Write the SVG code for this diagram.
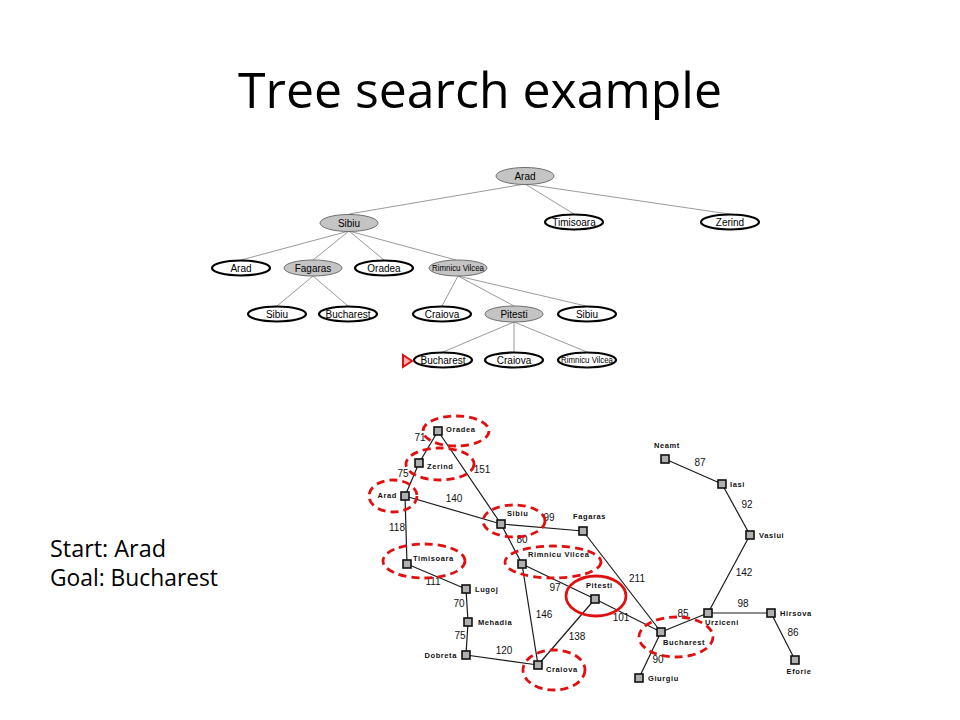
<svg xmlns="http://www.w3.org/2000/svg" width="960" height="720" viewBox="0 0 960 720">
<style>
.title{font-family:"Open Sans","Noto Sans",sans-serif;font-size:50px;fill:#000}
.side{font-family:"Open Sans","Noto Sans",sans-serif;font-size:23px;fill:#000}
.tl{stroke:#808080;stroke-width:0.8;fill:none}
.tn-g{fill:#c4c4c4;stroke:#6e6e6e;stroke-width:1}
.tn-w{fill:#fff;stroke:#000;stroke-width:2.2}
.tt{font-family:"Liberation Sans",Arial,sans-serif;font-size:10px;fill:#000;text-anchor:middle}
.tts{font-family:"Liberation Sans",Arial,sans-serif;font-size:8.5px;fill:#000;text-anchor:middle}
.ml{stroke:#1a1a1a;stroke-width:1.2;fill:none}
.sq{fill:#b0b0b0;stroke:#111;stroke-width:1.6}
.city{font-family:"Liberation Sans",Arial,sans-serif;font-size:7.5px;font-weight:bold;letter-spacing:0.6px;fill:#111}
.num{font-family:"Liberation Sans",Arial,sans-serif;font-size:10px;fill:#111;text-anchor:middle}
.rd{fill:none;stroke:#e01010;stroke-width:2.8;stroke-dasharray:8 5}
.rs{fill:none;stroke:#e01010;stroke-width:2.8}
</style>
<defs>
<rect id="sq" x="-4" y="-4" width="8" height="8" class="sq"/>
</defs>
<rect width="960" height="720" fill="#fff"/>
<text class="title" x="480" y="108" text-anchor="middle" textLength="484" lengthAdjust="spacingAndGlyphs">Tree search example</text>
<text class="side" x="50" y="557" textLength="116" lengthAdjust="spacingAndGlyphs">Start: Arad</text>
<text class="side" x="50" y="586" textLength="168" lengthAdjust="spacingAndGlyphs">Goal: Bucharest</text>

<g id="tree-edges">
<line class="tl" x1="525" y1="184" x2="349" y2="214"/>
<line class="tl" x1="525" y1="184" x2="574" y2="214"/>
<line class="tl" x1="525" y1="184" x2="729" y2="214"/>
<line class="tl" x1="349" y1="231" x2="241" y2="260"/>
<line class="tl" x1="349" y1="231" x2="313" y2="260"/>
<line class="tl" x1="349" y1="231" x2="384" y2="260"/>
<line class="tl" x1="349" y1="231" x2="456" y2="260"/>
<line class="tl" x1="313" y1="276" x2="277" y2="306"/>
<line class="tl" x1="313" y1="276" x2="348" y2="306"/>
<line class="tl" x1="458" y1="276" x2="442" y2="306"/>
<line class="tl" x1="458" y1="276" x2="514" y2="306"/>
<line class="tl" x1="458" y1="276" x2="586" y2="306"/>
<line class="tl" x1="514" y1="322" x2="443" y2="352"/>
<line class="tl" x1="514" y1="322" x2="514" y2="352"/>
<line class="tl" x1="514" y1="322" x2="587" y2="352"/>
</g>
<g id="t-arad"><ellipse class="tn-g" cx="525" cy="176" rx="29" ry="8.5"/><text class="tt" x="525" y="180">Arad</text></g>
<g id="t-sibiu"><ellipse class="tn-g" cx="349" cy="223" rx="29" ry="8.5"/><text class="tt" x="349" y="227">Sibiu</text></g>
<g id="t-timisoara"><ellipse class="tn-w" cx="574" cy="222" rx="29" ry="7.5"/><text class="tt" x="574" y="226">Timisoara</text></g>
<g id="t-zerind"><ellipse class="tn-w" cx="730" cy="222" rx="29" ry="7.5"/><text class="tt" x="730" y="226">Zerind</text></g>
<g id="t-arad2"><ellipse class="tn-w" cx="241" cy="268" rx="29" ry="7.5"/><text class="tt" x="241" y="272">Arad</text></g>
<g id="t-fagaras"><ellipse class="tn-g" cx="313" cy="268" rx="29" ry="8"/><text class="tt" x="313" y="272">Fagaras</text></g>
<g id="t-oradea"><ellipse class="tn-w" cx="384" cy="268" rx="29" ry="7.5"/><text class="tt" x="384" y="272">Oradea</text></g>
<g id="t-rv"><ellipse class="tn-g" cx="458" cy="268" rx="29" ry="8"/><text class="tts" x="458" y="271" textLength="52" lengthAdjust="spacingAndGlyphs">Rimnicu Vilcea</text></g>
<g id="t-sibiu2"><ellipse class="tn-w" cx="277" cy="314" rx="29" ry="7.5"/><text class="tt" x="277" y="318">Sibiu</text></g>
<g id="t-bucharest"><ellipse class="tn-w" cx="348" cy="314" rx="29" ry="7.5"/><text class="tt" x="348" y="318">Bucharest</text></g>
<g id="t-craiova"><ellipse class="tn-w" cx="442" cy="314" rx="29" ry="7.5"/><text class="tt" x="442" y="318">Craiova</text></g>
<g id="t-pitesti"><ellipse class="tn-g" cx="514" cy="314" rx="29" ry="8"/><text class="tt" x="514" y="318">Pitesti</text></g>
<g id="t-sibiu3"><ellipse class="tn-w" cx="587" cy="314" rx="29" ry="7.5"/><text class="tt" x="587" y="318">Sibiu</text></g>
<g id="t-bucharest2"><ellipse class="tn-w" cx="443" cy="360" rx="29" ry="7.5"/><text class="tt" x="443" y="364">Bucharest</text></g>
<g id="t-craiova2"><ellipse class="tn-w" cx="514" cy="360" rx="29" ry="7.5"/><text class="tt" x="514" y="364">Craiova</text></g>
<g id="t-rv2"><ellipse class="tn-w" cx="587" cy="360" rx="29" ry="7.5"/><text class="tts" x="587" y="363" textLength="52" lengthAdjust="spacingAndGlyphs">Rimnicu Vilcea</text></g>
<g id="t-marker"><polygon points="403,355 412,361 403,367" fill="#f6b0b0" stroke="#e01010" stroke-width="2"/></g>

<g id="map-edges">
<line class="ml" x1="438" y1="431" x2="419" y2="463"/>
<line class="ml" x1="438" y1="431" x2="501" y2="524"/>
<line class="ml" x1="419" y1="463" x2="405" y2="496"/>
<line class="ml" x1="405" y1="496" x2="501" y2="524"/>
<line class="ml" x1="405" y1="496" x2="407" y2="564"/>
<line class="ml" x1="407" y1="564" x2="466" y2="589"/>
<line class="ml" x1="466" y1="589" x2="468" y2="622"/>
<line class="ml" x1="468" y1="622" x2="466" y2="655"/>
<line class="ml" x1="466" y1="655" x2="538" y2="665"/>
<line class="ml" x1="501" y1="524" x2="583" y2="531"/>
<line class="ml" x1="501" y1="524" x2="522" y2="564"/>
<line class="ml" x1="522" y1="564" x2="595" y2="599"/>
<line class="ml" x1="522" y1="564" x2="538" y2="665"/>
<line class="ml" x1="595" y1="599" x2="538" y2="665"/>
<line class="ml" x1="595" y1="599" x2="661" y2="632"/>
<line class="ml" x1="583" y1="531" x2="661" y2="632"/>
<line class="ml" x1="661" y1="632" x2="639" y2="678"/>
<line class="ml" x1="661" y1="632" x2="708" y2="613"/>
<line class="ml" x1="708" y1="613" x2="771" y2="613"/>
<line class="ml" x1="771" y1="613" x2="795" y2="660"/>
<line class="ml" x1="708" y1="613" x2="750" y2="535"/>
<line class="ml" x1="750" y1="535" x2="722" y2="484"/>
<line class="ml" x1="722" y1="484" x2="665" y2="459"/>
</g>
<g id="m-oradea"><use href="#sq" x="438" y="431"/><text class="city" x="446" y="432">Oradea</text></g>
<g id="m-zerind"><use href="#sq" x="419" y="463"/><text class="city" x="427" y="469">Zerind</text></g>
<g id="m-arad"><use href="#sq" x="405" y="496"/><text class="city" x="397" y="498" text-anchor="end">Arad</text></g>
<g id="m-sibiu"><use href="#sq" x="501" y="524"/><text class="city" x="507" y="516">Sibiu</text></g>
<g id="m-fagaras"><use href="#sq" x="583" y="531"/><text class="city" x="573" y="519">Fagaras</text></g>
<g id="m-timisoara"><use href="#sq" x="407" y="564"/><text class="city" x="413" y="561">Timisoara</text></g>
<g id="m-rv"><use href="#sq" x="522" y="564"/><text class="city" x="528" y="557">Rimnicu Vilcea</text></g>
<g id="m-lugoj"><use href="#sq" x="466" y="589"/><text class="city" x="475" y="592">Lugoj</text></g>
<g id="m-mehadia"><use href="#sq" x="468" y="622"/><text class="city" x="478" y="625">Mehadia</text></g>
<g id="m-dobreta"><use href="#sq" x="466" y="655"/><text class="city" x="457" y="658" text-anchor="end">Dobreta</text></g>
<g id="m-craiova"><use href="#sq" x="538" y="665"/><text class="city" x="546" y="672">Craiova</text></g>
<g id="m-pitesti"><use href="#sq" x="595" y="599"/><text class="city" x="586" y="588">Pitesti</text></g>
<g id="m-bucharest"><use href="#sq" x="661" y="632"/><text class="city" x="663" y="645">Bucharest</text></g>
<g id="m-giurgiu"><use href="#sq" x="639" y="678"/><text class="city" x="648" y="681">Giurgiu</text></g>
<g id="m-urziceni"><use href="#sq" x="708" y="613"/><text class="city" x="705" y="625">Urziceni</text></g>
<g id="m-hirsova"><use href="#sq" x="771" y="613"/><text class="city" x="780" y="616">Hirsova</text></g>
<g id="m-eforie"><use href="#sq" x="795" y="660"/><text class="city" x="799" y="674" text-anchor="middle">Eforie</text></g>
<g id="m-vaslui"><use href="#sq" x="750" y="535"/><text class="city" x="759" y="538">Vaslui</text></g>
<g id="m-iasi"><use href="#sq" x="722" y="484"/><text class="city" x="730" y="487">Iasi</text></g>
<g id="m-neamt"><use href="#sq" x="665" y="459"/><text class="city" x="667" y="448" text-anchor="middle">Neamt</text></g>

<g id="map-distances">
<text class="num" x="420" y="441">71</text>
<text class="num" x="403" y="477">75</text>
<text class="num" x="482" y="473">151</text>
<text class="num" x="454" y="502">140</text>
<text class="num" x="397" y="531">118</text>
<text class="num" x="549" y="521">99</text>
<text class="num" x="522" y="543">80</text>
<text class="num" x="433" y="585">111</text>
<text class="num" x="459" y="607">70</text>
<text class="num" x="460" y="639">75</text>
<text class="num" x="504" y="654">120</text>
<text class="num" x="544" y="618">146</text>
<text class="num" x="555" y="591">97</text>
<text class="num" x="577" y="640">138</text>
<text class="num" x="621" y="621">101</text>
<text class="num" x="637" y="582">211</text>
<text class="num" x="683" y="617">85</text>
<text class="num" x="658" y="663">90</text>
<text class="num" x="743" y="607">98</text>
<text class="num" x="793" y="636">86</text>
<text class="num" x="744" y="576">142</text>
<text class="num" x="747" y="508">92</text>
<text class="num" x="700" y="466">87</text>
</g>

<g id="highlights">
<ellipse class="rd" cx="456" cy="431" rx="33" ry="15"/>
<ellipse class="rd" cx="440" cy="464" rx="34" ry="16"/>
<ellipse class="rd" cx="393" cy="496" rx="24" ry="16"/>
<ellipse class="rd" cx="514" cy="521" rx="31" ry="16"/>
<ellipse class="rd" cx="424" cy="561" rx="41" ry="17"/>
<ellipse class="rd" cx="553" cy="562" rx="48" ry="16"/>
<ellipse class="rd" cx="554" cy="670" rx="31" ry="20"/>
<ellipse class="rd" cx="676" cy="637" rx="37" ry="20"/>
<ellipse class="rs" cx="596" cy="596" rx="30" ry="20"/>
</g>
</svg>
